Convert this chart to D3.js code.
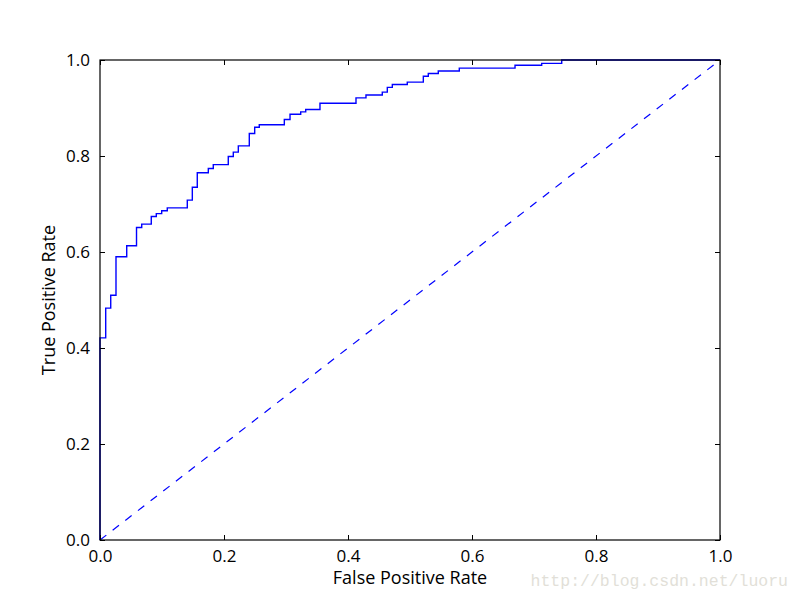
<!DOCTYPE html>
<html>
<head>
<meta charset="utf-8">
<script src="https://cdn.jsdelivr.net/npm/d3@7"></script>
<style>
  body { margin: 0; background: #fff; }
  text { font-family: "Open Sans", sans-serif; }
</style>
</head>
<body>
<div id="chart"></div>
<script>
// ROC curve (step points: at fpr[i] the curve jumps to tpr[i])
const fpr = [0, 0, 0.0092, 0.0173, 0.0258, 0.0431, 0.0589, 0.0673, 0.0827, 0.0908, 0.0995,
  0.1085, 0.1408, 0.1489, 0.1569, 0.1747, 0.1827, 0.2069, 0.2150, 0.2231, 0.2408, 0.2495,
  0.2569, 0.2973, 0.3065, 0.3237, 0.3318, 0.3548, 0.4129, 0.4290, 0.4553, 0.4634, 0.4715,
  0.4956, 0.5215, 0.5295, 0.5456, 0.5795, 0.6694, 0.7124, 0.7447, 1.0];
const tpr = [0, 0.421, 0.483, 0.510, 0.590, 0.613, 0.651, 0.658, 0.674, 0.680, 0.686,
  0.692, 0.708, 0.735, 0.765, 0.774, 0.782, 0.799, 0.808, 0.821, 0.847, 0.860,
  0.865, 0.876, 0.887, 0.892, 0.897, 0.910, 0.921, 0.927, 0.933, 0.943, 0.949,
  0.954, 0.966, 0.972, 0.977, 0.983, 0.989, 0.993, 1.0, 1.0];
const diagonal = [0, 1];
const ticks = [0, 0.2, 0.4, 0.6, 0.8, 1.0];

let drawRoc = (locationId) => {
  const margin = { top: 60, right: 80, bottom: 60, left: 100 };
  const width = 800 - margin.left - margin.right;
  const height = 600 - margin.top - margin.bottom;

  const root = d3.select(locationId)
    .append("svg")
    .attr("width", 800)
    .attr("height", 600);

  const svg = root.append("g")
    .attr("transform", `translate(${margin.left},${margin.top})`);

  const x = d3.scaleLinear().domain([0, 1]).range([0, width]);
  const y = d3.scaleLinear().domain([0, 1]).range([height, 0]);

  const pts = fpr.map((f, i) => [f, tpr[i]]);

  // diagonal
  svg.append("path")
    .datum(diagonal.map((d) => [d, d]))
    .attr("fill", "none")
    .attr("stroke", "#0000ff")
    .attr("stroke-width", 1.2)
    .attr("stroke-dasharray", "8,8")
    .attr("d", d3.line().x((d) => x(d[0])).y((d) => y(d[1])));

  // roc curve
  svg.append("path")
    .datum(pts)
    .attr("fill", "none")
    .attr("stroke", "#0000ff")
    .attr("stroke-width", 1.4)
    .attr("d", d3.line().curve(d3.curveStepAfter).x((d) => x(d[0])).y((d) => y(d[1])));

  // axes, ticks pointing inwards on all sides
  const fmt = d3.format(".1f");
  const styleAxis = (g) => {
    g.select(".domain").remove();
    g.selectAll("line").attr("stroke", "#000");
    g.selectAll("text").attr("fill", "#000").style("font-size", "17px");
  };
  svg.append("g").attr("transform", `translate(0,${height})`)
    .call(d3.axisBottom(x).tickValues(ticks).tickFormat(fmt).tickSizeInner(-5).tickSizeOuter(0).tickPadding(10))
    .call(styleAxis);
  svg.append("g")
    .call(d3.axisLeft(y).tickValues(ticks).tickFormat(fmt).tickSizeInner(-5).tickSizeOuter(0).tickPadding(10))
    .call(styleAxis);
  svg.append("g")
    .call(d3.axisTop(x).tickValues(ticks).tickFormat("").tickSizeInner(-5).tickSizeOuter(0))
    .call(styleAxis);
  svg.append("g").attr("transform", `translate(${width},0)`)
    .call(d3.axisRight(y).tickValues(ticks).tickFormat("").tickSizeInner(-5).tickSizeOuter(0))
    .call(styleAxis);

  // frame
  svg.append("rect")
    .attr("width", width)
    .attr("height", height)
    .attr("fill", "none")
    .attr("stroke", "#000")
    .attr("stroke-width", 1.2);

  svg.append("text")
    .attr("x", width / 2)
    .attr("y", height + 44)
    .attr("text-anchor", "middle")
    .style("font-size", "18px")
    .text("False Positive Rate");

  svg.append("text")
    .attr("transform", `translate(-45,${height / 2}) rotate(-90)`)
    .attr("text-anchor", "middle")
    .style("font-size", "18px")
    .text("True Positive Rate");

  // watermark
  root.append("text")
    .attr("x", 788)
    .attr("y", 586)
    .attr("text-anchor", "end")
    .attr("fill", "#e2dfd8")
    .style("font-family", "'Liberation Mono', monospace")
    .style("font-size", "16.5px")
    .text("http://blog.csdn.net/luoru");
};

drawRoc("#chart");
</script>
</body>
</html>
